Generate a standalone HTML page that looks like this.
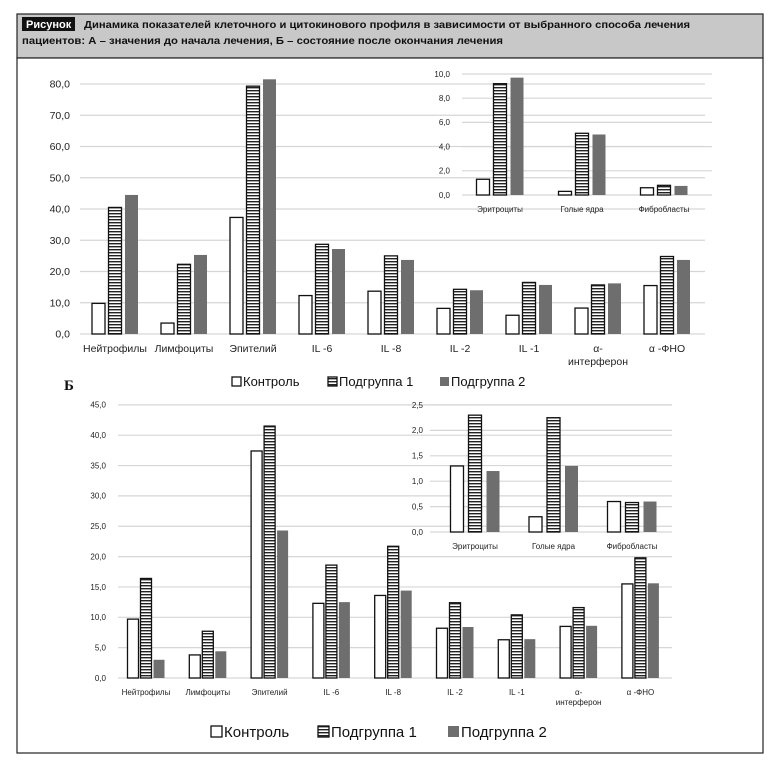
<!DOCTYPE html>
<html><head><meta charset="utf-8"><style>
body{margin:0;background:#fff;width:777px;height:764px;overflow:hidden;font-family:"Liberation Sans","DejaVu Sans",sans-serif}
</style></head><body>
<svg id="s" width="777" height="764" xmlns="http://www.w3.org/2000/svg" font-family="Liberation Sans, DejaVu Sans, sans-serif">
<defs>
<pattern id="h" width="4" height="3" patternUnits="userSpaceOnUse"><rect width="4" height="3" fill="#fff"/><rect width="4" height="1.4" fill="#222"/></pattern>
</defs>
<rect x="17" y="14" width="746" height="44" fill="#c8c8c8" stroke="#222" stroke-width="1.2"/>
<rect x="17" y="58" width="746" height="695" fill="#fff" stroke="#222" stroke-width="1.2"/>
<rect x="22" y="17" width="53" height="14" fill="#111"/>
<text x="26" y="28" font-size="11" font-weight="bold" fill="#fff">Рисунок</text>
<text x="84" y="28" font-size="10.5" font-weight="bold" fill="#111" textLength="606" lengthAdjust="spacingAndGlyphs">Динамика показателей клеточного и цитокинового профиля в зависимости от выбранного способа лечения</text>
<text x="22" y="44" font-size="10.5" font-weight="bold" fill="#111" textLength="481" lengthAdjust="spacingAndGlyphs">пациентов: А – значения до начала лечения, Б – состояние после окончания лечения</text>
<g id="g"></g>
</svg>
<script>
var g=document.getElementById('g'),o='';
function chart(c){
 for(var i=0;i<=c.n;i++){var v=i*c.step,y=c.y0-v*c.k;
  o+='<line x1="'+c.gx1+'" x2="'+c.gx2+'" y1="'+y+'" y2="'+y+'" stroke="#d6d6d6" stroke-width="1.2"/>';
  o+='<text x="'+c.lx+'" y="'+(y+c.fs*0.35)+'" font-size="'+c.fs+'" text-anchor="end" fill="#222">'+v.toFixed(1).replace('.',',')+'</text>';}
 c.d.forEach(function(d,j){var cx=c.c0+j*c.sp;
  d.v.forEach(function(v,b){var x=cx+(b-1)*c.bs-c.bw/2,h=v*c.k,y=c.y0-h;
   var f=b==0?'#fff':b==1?'url(#h)':'#6e6e6e',s=b==2?'none':'#111';
   o+='<rect x="'+x+'" y="'+y+'" width="'+c.bw+'" height="'+h+'" fill="'+f+'" stroke="'+s+'" stroke-width="1.3"/>';});
  d.l.forEach(function(t,k){o+='<text x="'+cx+'" y="'+(c.ly+k*c.fs*1.25)+'" font-size="'+c.fs+'" text-anchor="middle" fill="#222">'+t+'</text>';});
 });
}
var L=[['Нейтрофилы'],['Лимфоциты'],['Эпителий'],['IL -6'],['IL -8'],['IL -2'],['IL -1'],['α-','интерферон'],['α -ФНО']];
var A=[[9.8,40.5,44.5],[3.5,22.3,25.3],[37.3,79.3,81.5],[12.3,28.7,27.2],[13.7,25,23.7],[8.2,14.3,14.0],[6,16.5,15.7],[8.3,15.7,16.2],[15.5,24.8,23.7]];
chart({n:8,step:10,y0:334,k:3.125,gx1:80,gx2:705,lx:70,fs:10.5,c0:115,sp:69,bs:16.5,bw:13,ly:352,d:A.map(function(v,i){return{v:v,l:L[i]}})});
chart({n:5,step:2,y0:195,k:12.1,gx1:462,gx2:712,lx:450,fs:8,c0:500,sp:82,bs:17,bw:13,ly:212,d:[{v:[1.3,9.2,9.7],l:['Эритроциты']},{v:[0.3,5.1,5.0],l:['Голые ядра']},{v:[0.6,0.8,0.75],l:['Фибробласты']}]});
var B=[[9.7,16.4,3.0],[3.8,7.7,4.4],[37.4,41.5,24.3],[12.3,18.6,12.5],[13.6,21.7,14.4],[8.2,12.4,8.4],[6.3,10.4,6.4],[8.5,11.6,8.6],[15.5,19.8,15.6]];
chart({n:9,step:5,y0:678,k:6.07,gx1:118,gx2:672,lx:106,fs:8,c0:146,sp:61.8,bs:13,bw:11,ly:695,d:B.map(function(v,i){return{v:v,l:L[i]}})});
chart({n:5,step:0.5,y0:532,k:50.8,gx1:430,gx2:672,lx:423,fs:8,c0:475,sp:78.5,bs:18,bw:13,ly:549,d:[{v:[1.3,2.3,1.2],l:['Эритроциты']},{v:[0.3,2.25,1.3],l:['Голые ядра']},{v:[0.6,0.58,0.6],l:['Фибробласты']}]});
function leg(x,y,fs,sq,gaps){var t=['Контроль','Подгруппа 1','Подгруппа 2'],f=['#fff','url(#h)','#6e6e6e'];
 t.forEach(function(s,i){var xx=x+gaps[i];o+='<rect x="'+xx+'" y="'+(y-sq)+'" width="'+sq+'" height="'+sq+'" fill="'+f[i]+'" stroke="'+(i==2?'none':'#111')+'" stroke-width="1.3"/>';
 o+='<text x="'+(xx+sq+2)+'" y="'+y+'" font-size="'+fs+'" fill="#111">'+s+'</text>';});}
leg(232,386,13,9,[0,96,208]);
leg(211,737,15,11,[0,107,237]);
o+='<text x="64" y="390" font-size="15" font-weight="bold" font-family="Liberation Serif, serif" fill="#111">Б</text>';
g.innerHTML=o;
</script>
</body></html>
